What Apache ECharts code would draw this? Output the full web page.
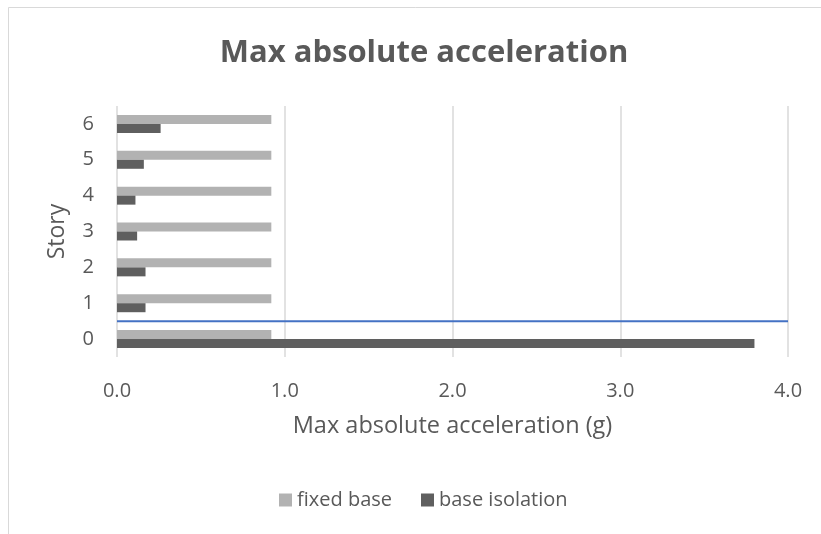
<!DOCTYPE html>
<html><head><meta charset="utf-8">
<script src="https://cdn.jsdelivr.net/npm/echarts@6/dist/echarts.min.js"></script>
<style>html,body{margin:0;padding:0;background:#fff}#c{width:821px;height:534px}</style>
</head><body><div id="c"></div>
<script>
const stories = ['0', '1', '2', '3', '4', '5', '6'];
const fixedBase = [0.92, 0.92, 0.92, 0.92, 0.92, 0.92, 0.92];
const baseIsolation = [3.80, 0.17, 0.17, 0.12, 0.11, 0.16, 0.26];
const xTicks = [0, 1, 2, 3, 4];
const dividerX = [0, 4];
const dividerY = 0.5;

const FONT = 'Open Sans';
const TXT = '#595959';
const chart = echarts.init(document.getElementById('c'), null, {renderer: 'canvas'});
chart.setOption({
  animation: false,
  backgroundColor: '#fff',
  textStyle: {fontFamily: FONT, color: TXT},
  graphic: [{
    type: 'rect', silent: true, z: -10,
    shape: {x: 8.5, y: 7.5, width: 900, height: 700},
    style: {fill: 'none', stroke: '#d9d9d9', lineWidth: 1}
  }],
  title: {
    text: 'Max absolute acceleration',
    left: 419, top: 33, textAlign: 'center',
    textStyle: {fontFamily: FONT, fontWeight: 'bold', fontSize: 31, color: TXT}
  },
  legend: {
    left: 274, top: 485,
    itemWidth: 13, itemHeight: 13, itemGap: 29,
    icon: 'rect',
    data: ['fixed base', 'base isolation'],
    textStyle: {fontFamily: FONT, fontSize: 20, color: TXT}
  },
  grid: {left: 117, right: 33, top: 106, bottom: 177, containLabel: false},
  xAxis: {
    type: 'value', min: xTicks[0], max: xTicks[xTicks.length - 1], interval: xTicks[1] - xTicks[0],
    axisLine: {show: false}, axisTick: {show: false},
    splitLine: {lineStyle: {color: '#d9d9d9', width: 1.5}},
    axisLabel: {margin: 24, fontSize: 20, color: TXT, fontFamily: FONT, formatter: v => v.toFixed(1)},
    name: 'Max absolute acceleration (g)', nameLocation: 'middle', nameGap: 57,
    nameTextStyle: {fontSize: 23.5, color: TXT, fontFamily: FONT}
  },
  yAxis: [{
    type: 'category', data: stories,
    axisLine: {show: false}, axisTick: {show: false},
    axisLabel: {margin: 23, fontSize: 20, color: TXT, fontFamily: FONT},
    name: 'Story', nameLocation: 'middle', nameGap: 48, nameRotate: 90,
    nameTextStyle: {fontSize: 23, color: TXT, fontFamily: FONT}
  }, {
    type: 'value', min: -0.5, max: 6.5, show: false
  }],
  series: [{
    name: 'fixed base', type: 'bar', data: fixedBase,
    barWidth: 9, barGap: '0%',
    itemStyle: {color: '#b2b2b2'}
  }, {
    name: 'base isolation', type: 'bar', data: baseIsolation,
    barWidth: 9, barGap: '0%',
    itemStyle: {color: '#5f5f5f'}
  }, {
    type: 'line', yAxisIndex: 1, silent: true, showSymbol: false,
    data: dividerX.map(x => [x, dividerY]),
    lineStyle: {color: '#4472c4', width: 2},
    itemStyle: {color: '#4472c4'}
  }]
});
</script></body></html>
